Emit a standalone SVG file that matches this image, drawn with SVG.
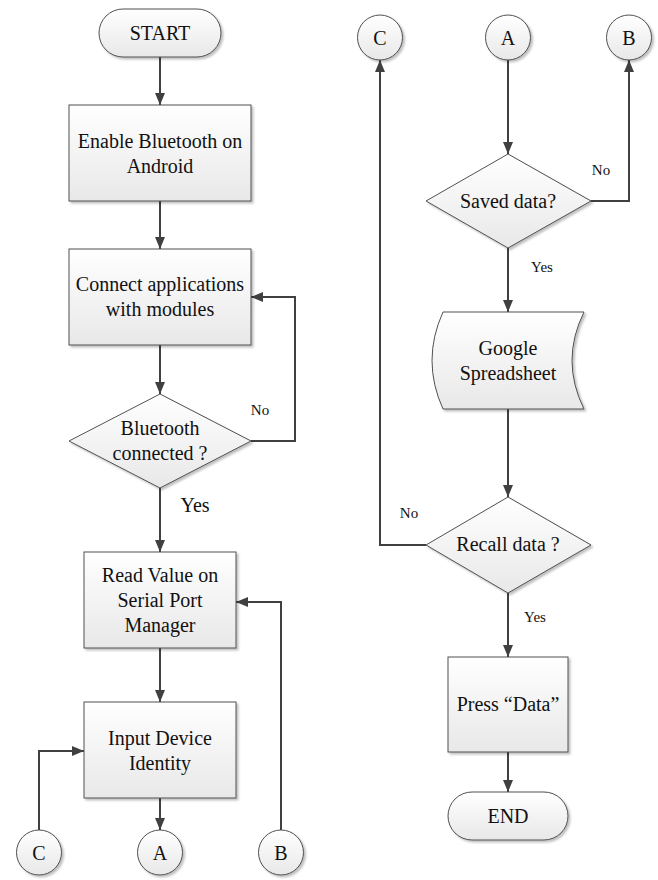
<svg xmlns="http://www.w3.org/2000/svg" width="658" height="880" viewBox="0 0 658 880">
<style>
.n{fill:url(#g);stroke:#505050;stroke-width:1;filter:url(#sh)}
.t{font-family:'Liberation Serif','DejaVu Serif',serif;font-size:20px;fill:#111;text-anchor:middle}
.l{font-family:'Liberation Serif','DejaVu Serif',serif;font-size:15px;fill:#111;text-anchor:middle}
.c{fill:none;stroke:#404040;stroke-width:2;marker-end:url(#ah)}
</style>
<defs>
<linearGradient id="g" x1="0" y1="0" x2="0" y2="1"><stop offset="0" stop-color="#ffffff"/><stop offset="1" stop-color="#e8e8e8"/></linearGradient>
<filter id="sh" x="-10%" y="-10%" width="130%" height="130%"><feDropShadow dx="2" dy="2" stdDeviation="1" flood-color="#000" flood-opacity="0.25"/></filter>
<marker id="ah" viewBox="0 0 12 10" refX="12" refY="5" markerWidth="12" markerHeight="10" markerUnits="userSpaceOnUse" orient="auto"><path d="M0,0 L12,5 L0,10 z" fill="#404040"/></marker>
</defs>
<rect width="658" height="880" fill="#fff"/>
<g id="connectors">
<path class="c" d="M160,57 V105"/>
<path class="c" d="M160,201 V249"/>
<path class="c" d="M160,345 V394"/>
<path class="c" d="M251,441 H295 V297 H251"/>
<path class="c" d="M160,488 V552"/>
<path class="c" d="M160,648 V702"/>
<path class="c" d="M160,798 V830"/>
<path class="c" d="M39,830 V751 H84"/>
<path class="c" d="M281,830 V602 H236"/>
<path class="c" d="M508,60 V154"/>
<path class="c" d="M591,201 H629 V60"/>
<path class="c" d="M508,248 V312"/>
<path class="c" d="M508,409 V497"/>
<path class="c" d="M426,545 H380 V60"/>
<path class="c" d="M508,593 V657"/>
<path class="c" d="M508,752 V792"/>
<text class="l" x="260" y="415">No</text>
<text class="t" x="195" y="512">Yes</text>
<text class="l" x="601" y="175">No</text>
<text class="l" x="542" y="272">Yes</text>
<text class="l" x="409" y="518">No</text>
<text class="l" x="535" y="622">Yes</text>
</g>
<g id="start"><rect class="n" x="99" y="9" width="122" height="48" rx="24"/><text class="t" x="160" y="40">START</text></g>
<g id="enable"><rect class="n" x="69" y="105" width="182" height="96"/><text class="t" x="160" y="147.5">Enable Bluetooth on</text><text class="t" x="160" y="172.5">Android</text></g>
<g id="connect"><rect class="n" x="69" y="249" width="182" height="96"/><text class="t" x="160" y="291">Connect applications</text><text class="t" x="160" y="316">with modules</text></g>
<g id="btconnected"><polygon class="n" points="160,394 251,441 160,488 69,441"/><text class="t" x="160" y="435">Bluetooth</text><text class="t" x="160" y="460">connected ?</text></g>
<g id="read"><rect class="n" x="84" y="552" width="152" height="96"/><text class="t" x="160" y="582">Read Value on</text><text class="t" x="160" y="607">Serial Port</text><text class="t" x="160" y="632">Manager</text></g>
<g id="input"><rect class="n" x="84" y="702" width="152" height="96"/><text class="t" x="160" y="745">Input Device</text><text class="t" x="160" y="770">Identity</text></g>
<g id="c-bottom"><circle class="n" cx="39" cy="852.5" r="22.5"/><text class="t" x="39" y="859.5">C</text></g>
<g id="a-bottom"><circle class="n" cx="160" cy="852.5" r="22.5"/><text class="t" x="160" y="859.5">A</text></g>
<g id="b-bottom"><circle class="n" cx="281" cy="852.5" r="22.5"/><text class="t" x="281" y="859.5">B</text></g>
<g id="c-top"><circle class="n" cx="380" cy="37.5" r="22.5"/><text class="t" x="380" y="44.5">C</text></g>
<g id="a-top"><circle class="n" cx="508" cy="37.5" r="22.5"/><text class="t" x="508" y="44.5">A</text></g>
<g id="b-top"><circle class="n" cx="629" cy="37.5" r="22.5"/><text class="t" x="629" y="44.5">B</text></g>
<g id="saved"><polygon class="n" points="508,154 591,201 508,248 426,201"/><text class="t" x="508" y="208">Saved data?</text></g>
<g id="google"><path class="n" d="M443,312 L584,312 Q560,360.5 584,409 L443,409 Q421,360.5 443,312 Z"/><text class="t" x="508" y="355">Google</text><text class="t" x="508" y="380">Spreadsheet</text></g>
<g id="recall"><polygon class="n" points="508,497 591,545 508,593 426,545"/><text class="t" x="508" y="551">Recall data ?</text></g>
<g id="press"><rect class="n" x="448" y="657" width="120" height="95"/><text class="t" x="508" y="711">Press “Data”</text></g>
<g id="end"><rect class="n" x="448" y="792" width="120" height="48" rx="24"/><text class="t" x="508" y="823">END</text></g>
</svg>
